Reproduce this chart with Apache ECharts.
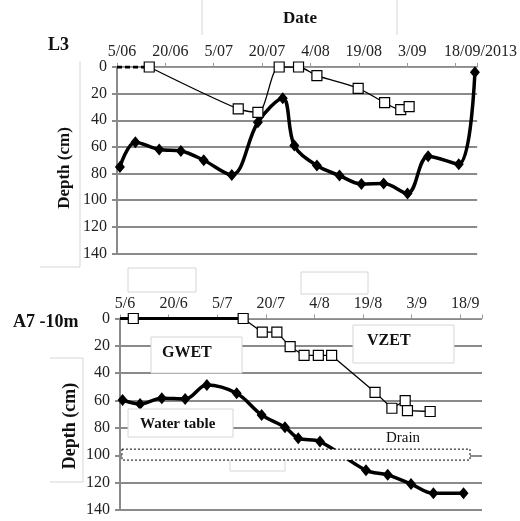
<!DOCTYPE html>
<html><head><meta charset="utf-8">
<script src="https://cdn.jsdelivr.net/npm/echarts@6/dist/echarts.min.js"></script>
<style>html,body{margin:0;padding:0;background:#fff}#c{width:520px;height:521px}</style>
</head><body><div id="c"></div>
<script>
// x values are days since 5 June 2013
const topTickLabels = ['5/06','20/06','5/07','20/07','4/08','19/08','3/09','18/09/2013'];
const bottomTickLabels = ['5/6','20/6','5/7','20/7','4/8','19/8','3/9','18/9'];

// L3 – open squares (VZET)
const l3SquareDays  = [10, 37.6, 43.7, 50.3, 56.3, 62, 74.8, 83, 88, 90.6];
const l3SquareDepth = [0, 31.5, 34, 0, 0, 6.5, 16, 26.8, 32, 29.8];
// L3 – dashed start segment
const l3DashDays  = [0, 10];
const l3DashDepth = [0, 0];
// L3 – water table (diamonds)
const l3TableDays  = [0.9, 5.7, 13.1, 19.8, 26.9, 35.6, 43.7, 51.4, 55, 62, 69, 75.8, 82.7, 90.1, 96.5, 106, 111];
const l3TableDepth = [75, 56.5, 62, 63, 70, 81, 41.5, 23.5, 59, 74, 81.5, 87.8, 87.5, 95, 67, 73, 4];

// A7 -10m – open squares (VZET)
const a7SquareDays  = [4.1, 38.0, 43.9, 48.4, 52.5, 56.8, 61.2, 65.3, 78.7, 83.9, 88.0, 88.7, 95.7];
const a7SquareDepth = [0, 0, 10, 10, 20.6, 27, 27, 27, 54, 65.6, 60, 67.4, 68];
// A7 – solid start segment
const a7SolidDays  = [0, 38];
const a7SolidDepth = [0, 0];
// A7 – water table (diamonds)
const a7TableDays  = [0.8, 6.2, 12.9, 20.1, 26.8, 36.0, 43.7, 50.9, 55.0, 61.7, 75.9, 82.6, 89.8, 96.7, 106];
const a7TableDepth = [59.6, 62.5, 58.3, 58.8, 48.6, 54.7, 70.5, 79.5, 87.5, 90, 111, 114.3, 121, 127.8, 127.8];
// Drain extent
const drainDays  = [0.6, 108];
const drainDepth = [95.5, 103.5];

const zip = (a, b) => a.map((v, i) => [v, b[i]]);
const SERIF = 'Liberation Serif';
const gridColor = '#8a8a8a';

function xAxisFor(idx, labels) {
  const last = labels.length - 1;
  return {
    type: 'value', gridIndex: idx, position: 'top', min: 0, max: 111.7, interval: 15,
    axisLine: { show: true, lineStyle: { color: '#9a9a9a', width: 1 } },
    axisTick: { show: true, inside: false, length: 4, lineStyle: { color: '#9a9a9a' } },
    splitLine: { show: false },
    axisLabel: {
      fontFamily: SERIF, fontSize: 16, color: '#222', margin: 7,
      rich: {
        n: { fontFamily: SERIF, fontSize: 16, color: '#222', padding: [0, 0, 0, 10] },
        w: { fontFamily: SERIF, fontSize: 16, color: '#222', padding: [0, 0, 0, idx === 0 ? 50 : 10] }
      },
      formatter: v => {
        const k = Math.round(v / 15);
        if (Math.abs(v - k * 15) > 0.01 || !labels[k]) return '';
        return (k === last ? '{w|' : '{n|') + labels[k] + '}';
      }
    }
  };
}
function yAxisFor(idx) {
  return {
    type: 'value', gridIndex: idx, inverse: true, min: 0, max: 140, interval: 20,
    axisLine: { show: true, lineStyle: { color: gridColor, width: 2 } },
    axisTick: { show: true, length: 5, lineStyle: { color: gridColor, width: 2 } },
    splitLine: { show: true, lineStyle: { color: gridColor, width: 2 } },
    axisLabel: { fontFamily: SERIF, fontSize: 16, color: '#222', margin: 10 }
  };
}
const squareStyle = (ax, days, depth, smooth) => ({
  type: 'line', xAxisIndex: ax, yAxisIndex: ax, data: zip(days, depth), smooth: smooth,
  symbol: 'rect', symbolSize: 10, showAllSymbol: true,
  itemStyle: { color: '#fff', borderColor: '#000', borderWidth: 1.2 },
  lineStyle: { color: '#000', width: 1.3 }, z: 4
});
const diamondStyle = (ax, days, depth) => ({
  type: 'line', xAxisIndex: ax, yAxisIndex: ax, data: zip(days, depth), smooth: 0.35,
  symbol: 'diamond', symbolSize: [10, 12], showAllSymbol: true,
  itemStyle: { color: '#000' }, lineStyle: { color: '#000', width: 3.5 }, z: 3
});

const boxStroke = '#d6d6d6';
function box(x, y, w, h, fill) {
  return { type: 'rect', shape: { x, y, width: w, height: h }, style: { fill: fill ? '#fff' : 'none', stroke: boxStroke, lineWidth: 1 }, z: 5 };
}
function line(x1, y1, x2, y2) {
  return { type: 'line', shape: { x1, y1, x2, y2 }, style: { stroke: boxStroke, lineWidth: 1 }, z: 1 };
}
function txt(x, y, t, size, bold, align, rot) {
  return { type: 'text', x, y, rotation: rot || 0, z: 20,
    style: { text: t, font: (bold ? 'bold ' : '') + size + 'px "' + SERIF + '"', fill: '#111', textAlign: align || 'left', textVerticalAlign: 'middle' } };
}

const option = {
  animation: false,
  grid: [
    { left: 117, top: 67, width: 365, height: 186.5 },
    { left: 120, top: 318.5, width: 362, height: 191.5 }
  ],
  xAxis: [xAxisFor(0, topTickLabels), xAxisFor(1, bottomTickLabels)],
  yAxis: [yAxisFor(0), yAxisFor(1)],
  series: [
    { type: 'line', xAxisIndex: 0, yAxisIndex: 0, data: zip(l3DashDays, l3DashDepth), symbol: 'none',
      lineStyle: { color: '#000', width: 3, type: [5, 3] }, z: 3 },
    squareStyle(0, l3SquareDays, l3SquareDepth, 0.3),
    diamondStyle(0, l3TableDays, l3TableDepth),
    { type: 'line', xAxisIndex: 1, yAxisIndex: 1, data: zip(a7SolidDays, a7SolidDepth), symbol: 'none',
      lineStyle: { color: '#000', width: 3 }, z: 3 },
    squareStyle(1, a7SquareDays, a7SquareDepth, 0),
    diamondStyle(1, a7TableDays, a7TableDepth),
    { type: 'line', xAxisIndex: 1, yAxisIndex: 1, data: [], z: 10, silent: true,
      markArea: { silent: true, z: 10,
        itemStyle: { color: '#fff', borderColor: '#000', borderWidth: 1, borderType: [2, 2], opacity: 1 },
        data: [[{ xAxis: drainDays[0], yAxis: drainDepth[0] }, { xAxis: drainDays[1], yAxis: drainDepth[1] }]] } }
  ],
  graphic: [
    // faint decorative frames
    line(202, 0, 202, 35), line(397, 0, 397, 35),
    line(80, 61, 80, 267), line(40, 267, 80, 267),
    box(128, 268, 68, 24, false), box(301, 272, 67, 22, false),
    line(50, 358, 83, 358), line(83, 358, 83, 482), line(50, 482, 83, 482),
    { type: 'polyline', shape: { points: [[230, 460], [230, 471], [285, 471], [285, 460]] }, style: { stroke: boxStroke, fill: 'none' }, z: 5 },
    // annotation boxes
    box(151, 337, 91, 36, true), box(353, 325, 101, 38, true), box(128, 409, 105, 28, true),
    txt(300, 19, 'Date', 17, true, 'center'),
    txt(48, 45, 'L3', 18, true, 'left'),
    txt(13, 322, 'A7 -10m', 18, true, 'left'),
    txt(65, 168, 'Depth (cm)', 17, true, 'center', Math.PI / 2),
    txt(70, 426, 'Depth (cm)', 18, true, 'center', Math.PI / 2),
    txt(162, 353, 'GWET', 16, true, 'left'),
    txt(367, 341, 'VZET', 16, true, 'left'),
    txt(140, 424, 'Water table', 15, true, 'left'),
    txt(403, 438, 'Drain', 15, false, 'center')
  ]
};
echarts.init(document.getElementById('c'), null, { renderer: 'canvas' }).setOption(option);
</script></body></html>
